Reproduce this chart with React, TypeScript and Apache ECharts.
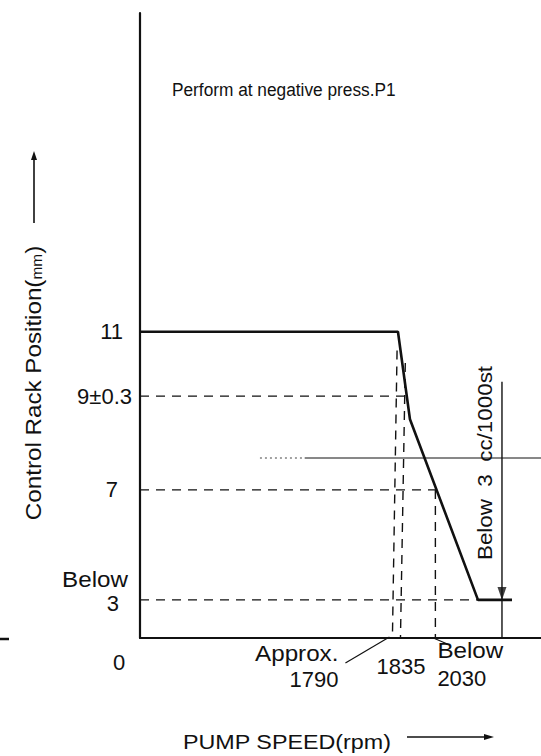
import React, { useEffect, useRef } from 'react';
import * as echarts from 'echarts';

const FONT = '"Liberation Sans", Arial, Helvetica, sans-serif';

// x axis: pump speed (rpm); the axis origin sits at 380 rpm and is labelled "0"
const speedTicks = [380, 1790, 1835, 2030];
const speedTickLabels = ['0', 'Approx.\n1790', '1835', 'Below\n2030'];
// y axis: control rack position (mm), drawn on the schematic, non-proportional scale of the original (0-100)
const rackTicks = [49.0, 38.7, 23.7, 6.1];
const rackTickLabels = ['11', '9±0.3', '7', 'Below\n3'];

// governor characteristic
const curveSpeed = [380, 1821, 1888, 2268, 2458];
const curveRack = [49.0, 49.0, 35.0, 6.1, 6.1];

// horizontal dashed guides
const hGuideRack = [38.7, 23.7, 6.1];
const hGuideFrom = [380, 380, 380];
const hGuideTo = [1870, 2030, 2268];

// vertical dashed guides
const vGuideSpeedBottom = [1790, 1835, 2030];
const vGuideSpeedTop = [1816, 1862, 2030];
const vGuideRackTop = [46.0, 44.0, 23.7];

// thin reference line
const refRack = 28.8;
const refSpeed = [1050, 1300, 2620];

// leak check
const leakSpeed = 2402;
const leakRackTop = 41.0;
const leakRackLimit = 6.1;

const titleText = 'Perform at negative press.P1';
const leakText = 'Below  3  cc/1000st';
const xName = 'PUMP SPEED(rpm)';

// label offsets (px) relative to their tick
const yLabelLayout: number[][][] = [[[-17, 0]], [[-8, 0]], [[-22, 0]], [[-12, -20], [-21, 4]]];
const xLabelLayout: { align: string; lines: number[][] }[] = [
  { align: 'center', lines: [[-21, 24.5]] },
  { align: 'right', lines: [[-54, 15], [-54, 41.5]] },
  { align: 'center', lines: [[0.5, 28]] },
  { align: 'left', lines: [[2, 12], [2, 40]] },
];

const BLACK = '#111';
const DASH = [9, 7];

function buildOption() {
  const series: any[] = [];
  series.push({
    type: 'line',
    data: curveSpeed.map((s, i) => [s, curveRack[i]]),
    symbol: 'none',
    lineStyle: { color: BLACK, width: 2.6 },
    z: 5,
    silent: true,
  });
  hGuideRack.forEach((r, i) =>
    series.push({
      type: 'line',
      data: [[hGuideFrom[i], r], [hGuideTo[i], r]],
      symbol: 'none',
      lineStyle: { color: BLACK, width: 1.4, type: DASH },
      silent: true,
    })
  );
  vGuideSpeedBottom.forEach((s, i) =>
    series.push({
      type: 'line',
      data: [[vGuideSpeedTop[i], vGuideRackTop[i]], [s, 0]],
      symbol: 'none',
      lineStyle: { color: BLACK, width: 1.4, type: DASH },
      silent: true,
    })
  );
  series.push({
    type: 'line',
    data: [[refSpeed[0], refRack], [refSpeed[1], refRack]],
    symbol: 'none',
    lineStyle: { color: '#444', width: 1, type: [2, 3] },
    silent: true,
  });
  series.push({
    type: 'line',
    data: [[refSpeed[1], refRack], [refSpeed[2], refRack]],
    symbol: 'none',
    lineStyle: { color: BLACK, width: 1 },
    silent: true,
  });
  series.push({
    type: 'line',
    data: [[leakSpeed, leakRackTop], [leakSpeed, 0]],
    symbol: 'none',
    lineStyle: { color: BLACK, width: 1.4 },
    silent: true,
  });
  series.push({
    type: 'scatter',
    data: [[leakSpeed, leakRackLimit]],
    symbol: 'path://M0,0L10,0L5,14Z',
    symbolSize: [9, 13],
    symbolOffset: [0, -6.5],
    itemStyle: { color: BLACK },
    silent: true,
    z: 6,
  });

  return {
    animation: false,
    backgroundColor: '#fff',
    grid: { left: 140, top: 13, right: 0, bottom: 118, containLabel: false, outerBoundsMode: 'none' },
    xAxis: {
      type: 'value',
      min: 380,
      max: 2620,
      axisLine: { show: true, lineStyle: { color: BLACK, width: 2.2 } },
      axisTick: { show: false },
      axisLabel: { show: false },
      splitLine: { show: false },
    },
    yAxis: {
      type: 'value',
      min: 0,
      max: 100,
      axisLine: { show: true, lineStyle: { color: BLACK, width: 2.2 } },
      axisTick: { show: false },
      axisLabel: { show: false },
      splitLine: { show: false },
    },
    series,
  };
}

function txt(text: string, x: number, y: number, o: any = {}) {
  return {
    type: 'text',
    x,
    y,
    scaleX: o.sx ?? 1,
    rotation: o.rot ?? 0,
    silent: true,
    style: {
      text,
      fill: BLACK,
      fontSize: o.fs ?? 22,
      fontFamily: FONT,
      align: o.align ?? 'left',
      verticalAlign: 'middle',
      rich: o.rich,
    },
  };
}

const hasLetters = (s: string) => /[A-Za-z]/.test(s);

export default function App() {
  const ref = useRef<HTMLDivElement>(null);
  useEffect(() => {
    const chart = echarts.init(ref.current!, null, { renderer: 'svg' });
    chart.setOption(buildOption() as any);
    const px = (x: number, y: number) => chart.convertToPixel({ seriesIndex: 0 }, [x, y]) as number[];
    const [ox, oy] = px(380, 0);
    const els: any[] = [];

    // y tick labels
    rackTicks.forEach((v, i) => {
      const y = px(380, v)[1];
      rackTickLabels[i].split('\n').forEach((line, j) => {
        const [dx, dy] = yLabelLayout[i][j];
        els.push(txt(line, ox + dx, y + dy, { align: 'right', sx: hasLetters(line) ? 1.1 : 1 }));
      });
    });
    // x tick labels
    speedTicks.forEach((v, i) => {
      const x = px(v, 0)[0];
      speedTickLabels[i].split('\n').forEach((line, j) => {
        const [dx, dy] = xLabelLayout[i].lines[j];
        els.push(txt(line, x + dx, oy + dy, { align: xLabelLayout[i].align, sx: hasLetters(line) ? 1.1 : 1 }));
      });
    });
    // leader lines
    const x1790 = px(1790, 0)[0];
    const x2030 = px(2030, 0)[0];
    els.push({ type: 'line', silent: true, shape: { x1: x1790 - 47, y1: oy + 25, x2: x1790 - 3, y2: oy - 1 }, style: { stroke: BLACK, lineWidth: 1.2 } });
    els.push({ type: 'line', silent: true, shape: { x1: x2030 - 2, y1: oy, x2: x2030 + 12, y2: oy + 6 }, style: { stroke: BLACK, lineWidth: 1.2 } });

    // title
    els.push(txt(titleText, 172, 90, { fs: 18, sx: 0.96 }));

    // leak annotation (rotated)
    const xLeak = px(leakSpeed, 0)[0];
    els.push(txt(leakText, xLeak - 17, 463, { fs: 20, sx: 1.12, rot: Math.PI / 2, align: 'center' }));

    // y axis name with arrow
    els.push({
      type: 'text',
      x: 33,
      y: 383,
      rotation: Math.PI / 2,
      scaleX: 1.1,
      silent: true,
      style: {
        text: '{a|Control Rack Position(}{m|mm}{a|)}',
        fill: BLACK,
        fontFamily: FONT,
        align: 'center',
        verticalAlign: 'middle',
        rich: {
          a: { fontSize: 22, fontFamily: FONT, fill: BLACK },
          m: { fontSize: 14, fontFamily: FONT, fill: BLACK, verticalAlign: 'bottom' },
        },
      },
    });
    els.push({ type: 'line', silent: true, shape: { x1: 34, y1: 223, x2: 34, y2: 158 }, style: { stroke: BLACK, lineWidth: 1.6 } });
    els.push({ type: 'polygon', silent: true, shape: { points: [[31, 160], [37, 160], [34, 151]] }, style: { fill: BLACK } });

    // x axis name with arrow
    els.push(txt(xName, 183, 742, { fs: 21, sx: 1.11 }));
    els.push({ type: 'line', silent: true, shape: { x1: 407, y1: 737, x2: 486, y2: 737 }, style: { stroke: BLACK, lineWidth: 1.3 } });
    els.push({ type: 'polygon', silent: true, shape: { points: [[484, 734], [484, 740], [494, 737]] }, style: { fill: BLACK } });

    // stray mark at left edge of the original scan
    els.push({ type: 'line', silent: true, shape: { x1: 0, y1: 639, x2: 9, y2: 639 }, style: { stroke: BLACK, lineWidth: 2.5 } });

    chart.setOption({ graphic: els });
    return () => chart.dispose();
  }, []);
  return <div ref={ref} style={{ position: 'absolute', left: 0, top: 0, width: 541, height: 756, background: '#fff' }} />;
}
